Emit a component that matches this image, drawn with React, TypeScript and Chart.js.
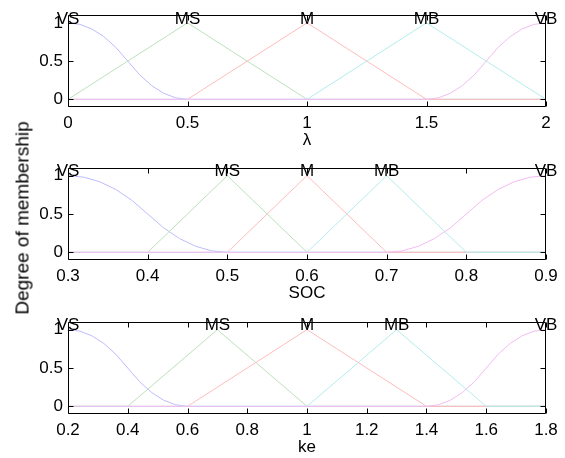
import React, { useEffect, useRef } from "react";
import { Chart, registerables } from "chart.js";

Chart.register(...registerables);

// ---------- shared ----------
const mfNames = ["VS", "MS", "M", "MB", "VB"];
const mfColors = ["#bcbcff", "#bce0bc", "#ffbcbc", "#b4ecec", "#f2bcf2"];
const yTicks = [0, 0.5, 1];
const yTitle = "Degree of membership";
const FONT = "'Liberation Sans', Arial, Helvetica, sans-serif";

// ---------- panel 1 : λ ----------
const lambdaTitle = "λ";
const lambdaTicks = [0, 0.5, 1, 1.5, 2];
const lambdaPeaks = [0, 0.5, 1, 1.5, 2];
const lambdaVSx = [0, 0.05, 0.1, 0.15, 0.2, 0.25, 0.3, 0.35, 0.4, 0.45, 0.5, 2];
const lambdaVSy = [1, 0.98, 0.92, 0.82, 0.68, 0.5, 0.32, 0.18, 0.08, 0.02, 0, 0];
const lambdaMSx = [0, 0.5, 1, 2];
const lambdaMSy = [0, 1, 0, 0];
const lambdaMx = [0, 0.5, 1, 1.5, 2];
const lambdaMy = [0, 0, 1, 0, 0];
const lambdaMBx = [0, 1, 1.5, 2];
const lambdaMBy = [0, 0, 1, 0];
const lambdaVBx = [0, 1.5, 1.55, 1.6, 1.65, 1.7, 1.75, 1.8, 1.85, 1.9, 1.95, 2];
const lambdaVBy = [0, 0, 0.02, 0.08, 0.18, 0.32, 0.5, 0.68, 0.82, 0.92, 0.98, 1];

// ---------- panel 2 : SOC ----------
const socTitle = "SOC";
const socTicks = [0.3, 0.4, 0.5, 0.6, 0.7, 0.8, 0.9];
const socPeaks = [0.3, 0.5, 0.6, 0.7, 0.9];
const socVSx = [0.3, 0.32, 0.34, 0.36, 0.38, 0.4, 0.42, 0.44, 0.46, 0.48, 0.5, 0.9];
const socVSy = [1, 0.98, 0.92, 0.82, 0.68, 0.5, 0.32, 0.18, 0.08, 0.02, 0, 0];
const socMSx = [0.3, 0.4, 0.5, 0.6, 0.9];
const socMSy = [0, 0, 1, 0, 0];
const socMx = [0.3, 0.5, 0.6, 0.7, 0.9];
const socMy = [0, 0, 1, 0, 0];
const socMBx = [0.3, 0.6, 0.7, 0.8, 0.9];
const socMBy = [0, 0, 1, 0, 0];
const socVBx = [0.3, 0.7, 0.72, 0.74, 0.76, 0.78, 0.8, 0.82, 0.84, 0.86, 0.88, 0.9];
const socVBy = [0, 0, 0.02, 0.08, 0.18, 0.32, 0.5, 0.68, 0.82, 0.92, 0.98, 1];

// ---------- panel 3 : ke ----------
const keTitle = "ke";
const keTicks = [0.2, 0.4, 0.6, 0.8, 1, 1.2, 1.4, 1.6, 1.8];
const kePeaks = [0.2, 0.7, 1, 1.3, 1.8];
const keVSx = [0.2, 0.24, 0.28, 0.32, 0.36, 0.4, 0.44, 0.48, 0.52, 0.56, 0.6, 1.8];
const keVSy = [1, 0.98, 0.92, 0.82, 0.68, 0.5, 0.32, 0.18, 0.08, 0.02, 0, 0];
const keMSx = [0.2, 0.4, 0.7, 1.0, 1.8];
const keMSy = [0, 0, 1, 0, 0];
const keMx = [0.2, 0.6, 1.0, 1.4, 1.8];
const keMy = [0, 0, 1, 0, 0];
const keMBx = [0.2, 1.0, 1.3, 1.6, 1.8];
const keMBy = [0, 0, 1, 0, 0];
const keVBx = [0.2, 1.4, 1.44, 1.48, 1.52, 1.56, 1.6, 1.64, 1.68, 1.72, 1.76, 1.8];
const keVBy = [0, 0, 0.02, 0.08, 0.18, 0.32, 0.5, 0.68, 0.82, 0.92, 0.98, 1];

type Series = { xs: number[]; ys: number[] };

type PanelProps = {
  top: number;
  height: number;
  padTop: number;
  title: string;
  ticks: number[];
  peaks: number[];
  series: Series[];
};

const X_SCALE_H = 44;

const fmt = (v: any) => String(Math.round(Number(v) * 1000) / 1000);

const boxPlugin = {
  id: "matlabBox",
  afterDraw(chart: any) {
    const { ctx, chartArea: a, scales } = chart;
    const L = Math.round(a.left) + 0.5;
    const R = Math.round(a.right) - 0.5;
    const T = Math.round(a.top) + 0.5;
    const B = Math.round(a.bottom) - 0.5;
    const tl = 5;
    ctx.save();
    ctx.strokeStyle = "#000";
    ctx.lineWidth = 1;
    ctx.beginPath();
    ctx.rect(L, T, R - L, B - T);
    for (const t of scales.x.ticks) {
      const px = Math.round(scales.x.getPixelForValue(t.value)) + 0.5;
      ctx.moveTo(px, B);
      ctx.lineTo(px, B - tl);
      ctx.moveTo(px, T);
      ctx.lineTo(px, T + tl);
    }
    for (const t of scales.y.ticks) {
      const py = Math.round(scales.y.getPixelForValue(t.value)) + 0.5;
      ctx.moveTo(L, py);
      ctx.lineTo(L + tl, py);
      ctx.moveTo(R, py);
      ctx.lineTo(R - tl, py);
    }
    ctx.stroke();
    ctx.restore();
  },
};

function makeLabelPlugin(peaks: number[]) {
  return {
    id: "mfLabels",
    afterDraw(chart: any) {
      const { ctx, scales } = chart;
      ctx.save();
      ctx.fillStyle = "#000";
      ctx.font = `17px ${FONT}`;
      ctx.textAlign = "center";
      ctx.textBaseline = "middle";
      const y = scales.y.getPixelForValue(1) - 4;
      peaks.forEach((p, i) => {
        ctx.fillText(mfNames[i], scales.x.getPixelForValue(p), y);
      });
      ctx.restore();
    },
  };
}

function Panel(p: PanelProps) {
  const ref = useRef<HTMLCanvasElement>(null);
  useEffect(() => {
    const canvas = ref.current;
    if (!canvas) return;
    const min = p.ticks[0];
    const max = p.ticks[p.ticks.length - 1];
    const chart = new Chart(canvas, {
      type: "line",
      data: {
        datasets: p.series.map((s, i) => ({
          label: mfNames[i],
          data: s.xs.map((x, j) => ({ x, y: s.ys[j] })),
          borderColor: mfColors[i],
          backgroundColor: mfColors[i],
          borderWidth: 1,
          pointRadius: 0,
          fill: false,
          tension: 0,
          order: mfNames.length - i,
        })),
      },
      options: {
        animation: false,
        responsive: false,
        devicePixelRatio: 1,
        events: [],
        layout: { padding: { top: p.padTop, left: 8, right: 19, bottom: 0 } },
        plugins: { legend: { display: false }, tooltip: { enabled: false }, title: { display: false } },
        scales: {
          x: {
            type: "linear",
            min,
            max,
            grid: { display: false, drawTicks: false },
            border: { display: false },
            afterBuildTicks: (s: any) => {
              s.ticks = p.ticks.map((v) => ({ value: v }));
            },
            afterFit: (s: any) => {
              s.height = X_SCALE_H;
            },
            ticks: {
              padding: 6,
              color: "#000",
              maxRotation: 0,
              autoSkip: false,
              font: { family: FONT, size: 17 },
              callback: fmt,
            },
            title: {
              display: true,
              text: p.title,
              color: "#000",
              padding: 0,
              font: { family: FONT, size: 17 },
            },
          },
          y: {
            type: "linear",
            min: -0.1,
            max: 1.1,
            grid: { display: false, drawTicks: false },
            border: { display: false },
            afterBuildTicks: (s: any) => {
              s.ticks = yTicks.map((v) => ({ value: v }));
            },
            afterFit: (s: any) => {
              s.width = 60;
            },
            ticks: {
              padding: 5,
              color: "#000",
              font: { family: FONT, size: 17 },
              callback: fmt,
            },
          },
        },
      } as any,
      plugins: [boxPlugin, makeLabelPlugin(p.peaks)],
    });
    return () => chart.destroy();
  }, []);
  return (
    <canvas
      ref={ref}
      width={565}
      height={p.height}
      style={{ position: "absolute", left: 0, top: p.top, display: "block" }}
    />
  );
}

export default function App() {
  return (
    <div style={{ position: "absolute", left: 0, top: 0, width: 565, height: 458, background: "#fff", overflow: "hidden" }}>
      <Panel
        top={0}
        height={14 + 93 + X_SCALE_H}
        padTop={14}
        title={lambdaTitle}
        ticks={lambdaTicks}
        peaks={lambdaPeaks}
        series={[
          { xs: lambdaVSx, ys: lambdaVSy },
          { xs: lambdaMSx, ys: lambdaMSy },
          { xs: lambdaMx, ys: lambdaMy },
          { xs: lambdaMBx, ys: lambdaMBy },
          { xs: lambdaVBx, ys: lambdaVBy },
        ]}
      />
      <Panel
        top={152}
        height={16 + 92 + X_SCALE_H}
        padTop={16}
        title={socTitle}
        ticks={socTicks}
        peaks={socPeaks}
        series={[
          { xs: socVSx, ys: socVSy },
          { xs: socMSx, ys: socMSy },
          { xs: socMx, ys: socMy },
          { xs: socMBx, ys: socMBy },
          { xs: socVBx, ys: socVBy },
        ]}
      />
      <Panel
        top={305}
        height={17 + 92 + X_SCALE_H}
        padTop={17}
        title={keTitle}
        ticks={keTicks}
        peaks={kePeaks}
        series={[
          { xs: keVSx, ys: keVSy },
          { xs: keMSx, ys: keMSy },
          { xs: keMx, ys: keMy },
          { xs: keMBx, ys: keMBy },
          { xs: keVBx, ys: keVBy },
        ]}
      />
      <div
        style={{
          position: "absolute",
          left: 22,
          top: 218,
          transform: "translate(-50%, -50%) rotate(-90deg)",
          whiteSpace: "nowrap",
          fontFamily: FONT,
          fontSize: 19,
          lineHeight: "19px",
          color: "#000",
        }}
      >
        {yTitle}
      </div>
    </div>
  );
}
